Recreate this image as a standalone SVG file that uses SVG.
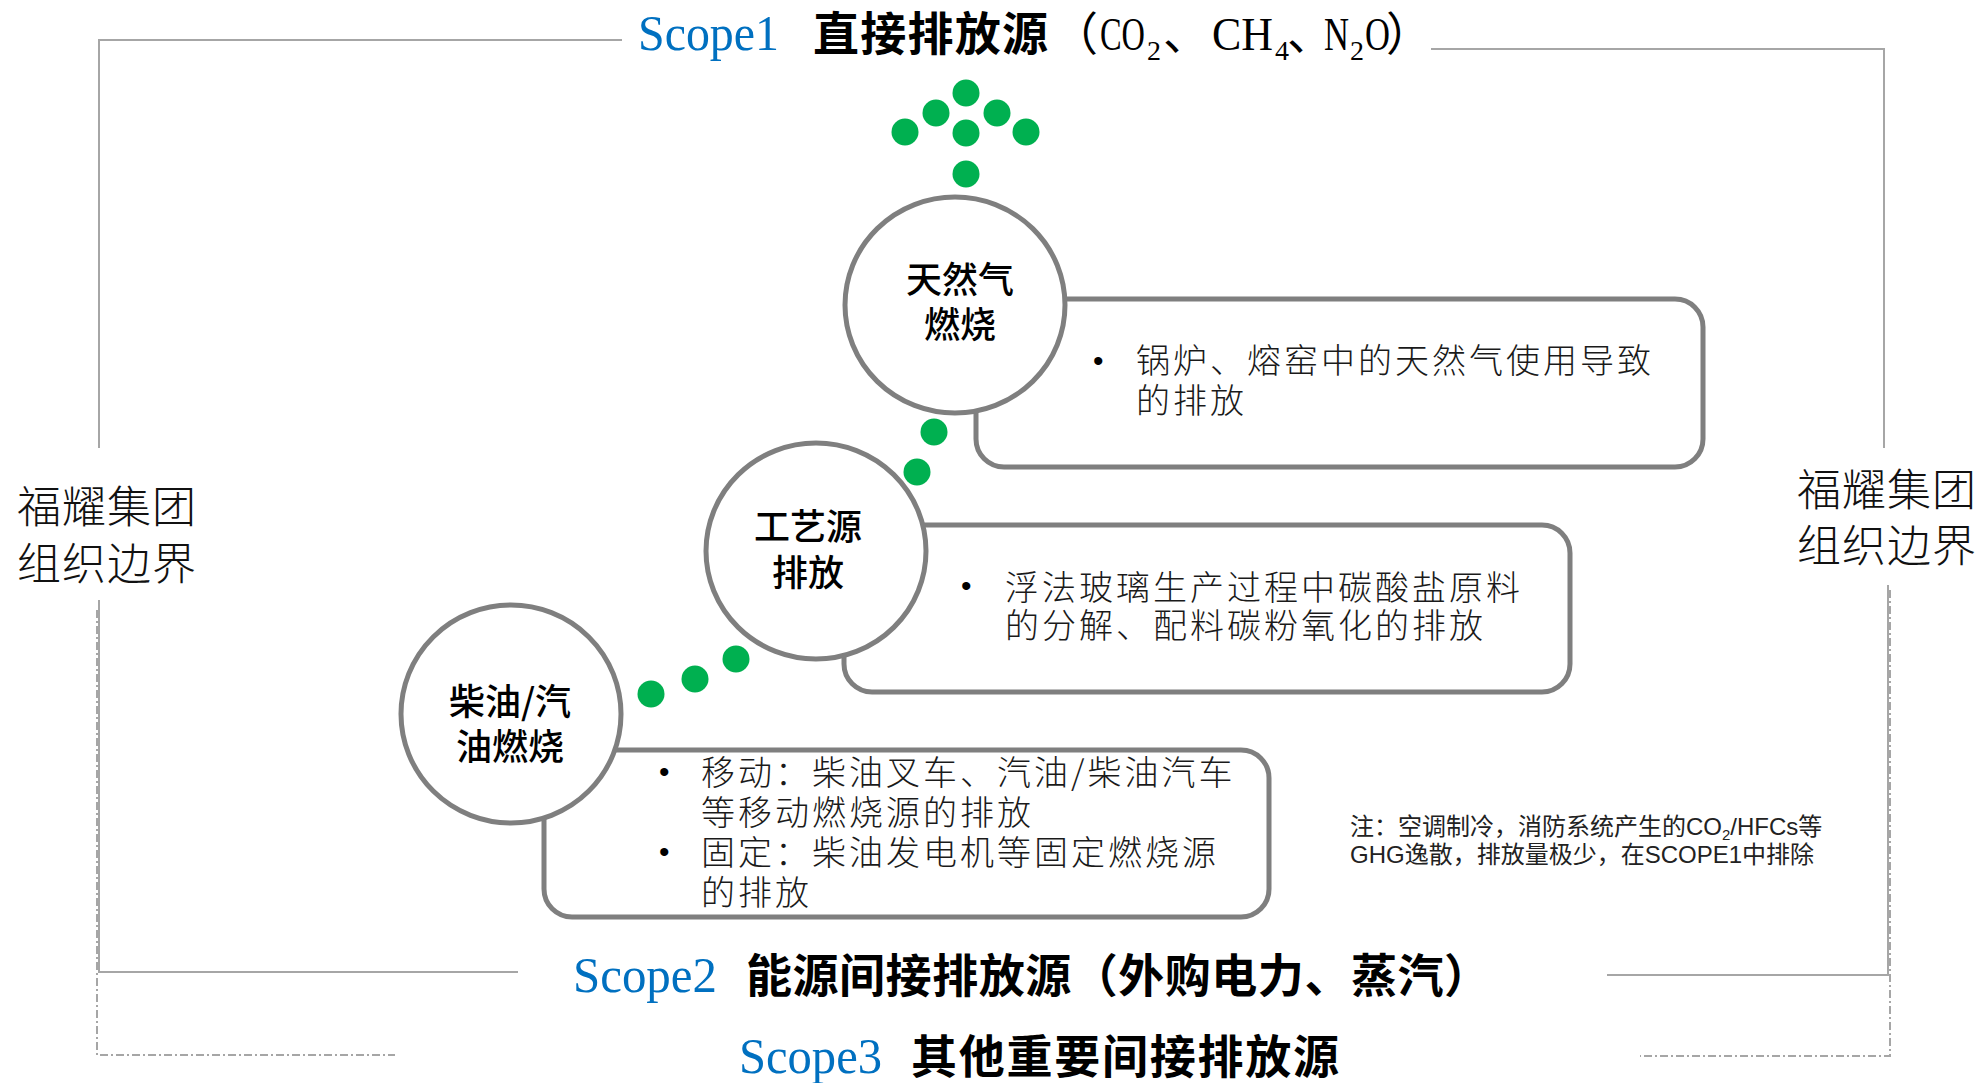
<svg xmlns="http://www.w3.org/2000/svg" width="1982" height="1083" viewBox="0 0 1982 1083">
<style>
.frame{fill:none;stroke:#A6A6A6;stroke-width:2}
.dash{fill:none;stroke:#A6A6A6;stroke-width:2;stroke-dasharray:8 3 2 3}
.shape{fill:#fff;stroke:#7F7F7F;stroke-width:5}
.dot{fill:#00B050}
.scope{font-family:"Liberation Serif",serif;font-size:50px;fill:#0070C0}
.head{font-family:"Noto Sans CJK SC",sans-serif;font-size:46px;font-weight:700;fill:#000}
.lat{font-family:"Liberation Serif",serif;font-size:46px;font-weight:400}
.sub{font-family:"Liberation Serif",serif;font-size:28px;font-weight:400}
.cj{font-family:"Noto Sans CJK SC",sans-serif;font-size:46px;font-weight:400}
.node{font-family:"Noto Sans CJK SC",sans-serif;font-size:36px;font-weight:500;fill:#000;text-anchor:middle}
.body{font-family:"Noto Sans CJK SC",sans-serif;font-size:34px;font-weight:300;fill:#1a1a1a;letter-spacing:3px}
.bul{font-family:"Liberation Sans",sans-serif;font-size:30px;fill:#000}
.org{font-family:"Noto Sans CJK SC",sans-serif;font-size:44px;font-weight:300;fill:#111;letter-spacing:1px}
.note{font-family:"Liberation Sans","Noto Sans CJK SC",sans-serif;font-size:24px;fill:#222}
</style>

<g id="boundary">
  <polyline class="frame" points="622,40 99,40 99,448"/>
  <polyline class="frame" points="99,600 99,972 518,972"/>
  <polyline class="frame" points="1431,49 1884,49 1884,448"/>
  <polyline class="frame" points="1888,585 1888,975 1607,975"/>
  <polyline class="dash" points="97,610 97,1055 395,1055"/>
  <polyline class="dash" points="1890,590 1890,1056 1640,1056"/>
  <text class="org" x="17" y="523">福耀集团</text>
  <text class="org" x="17" y="580">组织边界</text>
  <text class="org" x="1797" y="506">福耀集团</text>
  <text class="org" x="1797" y="562">组织边界</text>
</g>

<g id="scope1">
  <text class="scope" x="638" y="50" textLength="141" lengthAdjust="spacingAndGlyphs">Scope1</text>
  <text class="head" x="813" y="50" textLength="235" lengthAdjust="spacing">直接排放源</text>
  <text class="cj" x="1052" y="50">（</text>
  <text class="lat" x="1100" y="50" textLength="45" lengthAdjust="spacingAndGlyphs">CO</text>
  <text class="sub" x="1147" y="60">2</text>
  <text class="cj" x="1163" y="50">、</text>
  <text class="lat" x="1212" y="50" textLength="61" lengthAdjust="spacingAndGlyphs">CH</text>
  <text class="sub" x="1275" y="60">4</text>
  <text class="cj" x="1287" y="50">、</text>
  <text class="lat" x="1324" y="50" textLength="25" lengthAdjust="spacingAndGlyphs">N</text>
  <text class="sub" x="1350" y="60">2</text>
  <text class="lat" x="1365" y="50" textLength="25" lengthAdjust="spacingAndGlyphs">O</text>
  <text class="cj" x="1386" y="50">）</text>
</g>

<g id="scope2">
  <text class="scope" x="573" y="992" textLength="144" lengthAdjust="spacingAndGlyphs">Scope2</text>
  <text class="head" x="746" y="992" textLength="744" lengthAdjust="spacing">能源间接排放源（外购电力、蒸汽）</text>
</g>

<g id="scope3">
  <text class="scope" x="739" y="1073" textLength="143" lengthAdjust="spacingAndGlyphs">Scope3</text>
  <text class="head" x="911" y="1073" textLength="428" lengthAdjust="spacing">其他重要间接排放源</text>
</g>

<g id="desc-natural-gas">
  <rect class="shape" x="976" y="299" width="727" height="168" rx="28" ry="28"/>
  <text class="bul" x="1093" y="371">•</text>
  <text class="body" x="1136" y="373">锅炉、熔窑中的天然气使用导致</text>
  <text class="body" x="1136" y="413">的排放</text>
</g>
<g id="desc-process">
  <rect class="shape" x="844" y="525" width="726" height="167" rx="28" ry="28"/>
  <text class="bul" x="961" y="596">•</text>
  <text class="body" x="1005" y="600">浮法玻璃生产过程中碳酸盐原料</text>
  <text class="body" x="1005" y="638">的分解、配料碳粉氧化的排放</text>
</g>
<g id="desc-fuel">
  <rect class="shape" x="544" y="750" width="725" height="167" rx="28" ry="28"/>
  <text class="bul" x="659" y="782">•</text>
  <text class="body" x="701" y="785">移动：柴油叉车、汽油/柴油汽车</text>
  <text class="body" x="701" y="825">等移动燃烧源的排放</text>
  <text class="bul" x="659" y="862">•</text>
  <text class="body" x="701" y="865">固定：柴油发电机等固定燃烧源</text>
  <text class="body" x="701" y="905">的排放</text>
</g>

<g id="node-natural-gas">
  <ellipse class="shape" cx="955" cy="305" rx="110" ry="108"/>
  <text class="node" x="960" y="293">天然气</text>
  <text class="node" x="960" y="338">燃烧</text>
</g>
<g id="node-process">
  <ellipse class="shape" cx="816" cy="551" rx="110" ry="108"/>
  <text class="node" x="808" y="540">工艺源</text>
  <text class="node" x="808" y="586">排放</text>
</g>
<g id="node-fuel">
  <ellipse class="shape" cx="511" cy="714" rx="110" ry="109"/>
  <text class="node" x="510" y="715">柴油/汽</text>
  <text class="node" x="510" y="760">油燃烧</text>
</g>

<g id="connectors">
  <circle class="dot" cx="966" cy="93" r="13.5"/>
  <circle class="dot" cx="936" cy="113" r="13.5"/>
  <circle class="dot" cx="997" cy="113" r="13.5"/>
  <circle class="dot" cx="905" cy="132" r="13.5"/>
  <circle class="dot" cx="966" cy="133" r="13.5"/>
  <circle class="dot" cx="1026" cy="132" r="13.5"/>
  <circle class="dot" cx="966" cy="174" r="13.5"/>
  <circle class="dot" cx="934" cy="432" r="13.5"/>
  <circle class="dot" cx="917" cy="472" r="13.5"/>
  <circle class="dot" cx="736" cy="659" r="13.5"/>
  <circle class="dot" cx="695" cy="679" r="13.5"/>
  <circle class="dot" cx="651" cy="694" r="13.5"/>
</g>

<g id="note">
  <text class="note" x="1350" y="835">注：空调制冷，消防系统产生的CO<tspan font-size="15" dy="5">2</tspan><tspan dy="-5">/HFCs等</tspan></text>
  <text class="note" x="1350" y="863">GHG逸散，排放量极少，在SCOPE1中排除</text>
</g>
</svg>
